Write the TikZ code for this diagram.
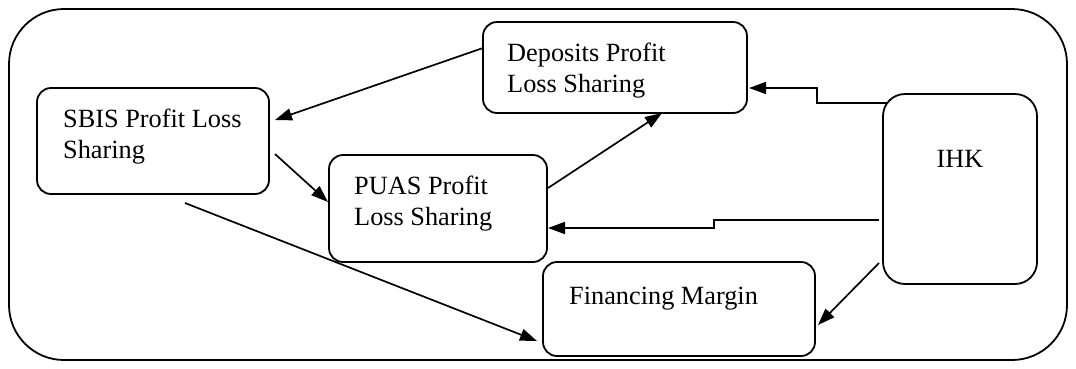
\documentclass[tikz,border=0pt]{standalone}
\usepackage{fontspec}
\setmainfont{Liberation Serif}
\usetikzlibrary{arrows.meta}
\tikzset{
  box/.style={draw, line width=1.8pt, rounded corners=14pt, inner sep=0pt, outer sep=0pt},
  lbl/.style={anchor=base west, inner sep=0pt, align=left, font=\fontsize{26.3}{30.5}\selectfont},
  arr/.style={line width=1.7pt, -{Triangle[length=17pt,width=12pt]}},
}
\begin{document}
\begin{tikzpicture}[x=1pt,y=-1pt]
\useasboundingbox (0,0) rectangle (1076,368);
% outer frame
\draw[line width=1.8pt, rounded corners=55pt] (9,9) rectangle (1067,360);

% boxes
\node[box, minimum width=264pt, minimum height=91pt]  (dep)  at (615,67.5) {};
\node[box, minimum width=232pt, minimum height=106pt] (sbis) at (153,141) {};
\node[box, minimum width=218pt, minimum height=107pt] (puas) at (438,208.5) {};
\node[box, minimum width=154pt, minimum height=190pt, rounded corners=22pt] (ihk) at (960,189) {};
\node[box, minimum width=272pt, minimum height=94pt]  (fin)  at (679,309) {};

% labels (base anchor of a two-line label sits on its last line)
\node[lbl] (deptxt)  at (507,92)  {Deposits Profit\\Loss Sharing};
\node[lbl] (sbistxt) at (63,158)  {SBIS Profit Loss\\Sharing};
\node[lbl] (puastxt) at (354,225) {PUAS Profit\\Loss Sharing};
\node[lbl, anchor=base] (ihktxt) at (960,167) {IHK};
\node[lbl] (fintxt)  at (569,304) {Financing Margin};

% connectors
\draw[arr] ([yshift=19.5pt]dep.west) -- ([xshift=6pt,yshift=21pt]sbis.east);
\draw[arr] ([xshift=6pt,yshift=-13pt]sbis.east) -- ([xshift=-1pt,yshift=6.5pt]puas.west);
\draw[arr] ([xshift=1pt,yshift=20.5pt]puas.east) -- ([xshift=47pt]dep.south);
\draw[arr] ([xshift=4pt,yshift=-9pt]ihk.north west) -- (817,103) -- (817,88)
           -- ([xshift=2pt,yshift=-20.5pt]dep.east);
\draw[arr] ([xshift=-4pt,yshift=-31pt]ihk.west) -- (714,220) -- (714,228)
           -- ([xshift=1pt,yshift=-19.5pt]puas.east);
\draw[arr] ([xshift=-4pt,yshift=-74pt]ihk.west) -- ([xshift=3pt,yshift=-16pt]fin.east);
\draw[arr] ([xshift=32pt,yshift=-9pt]sbis.south) -- ([xshift=-6pt,yshift=-32pt]fin.west);
\end{tikzpicture}
\end{document}
